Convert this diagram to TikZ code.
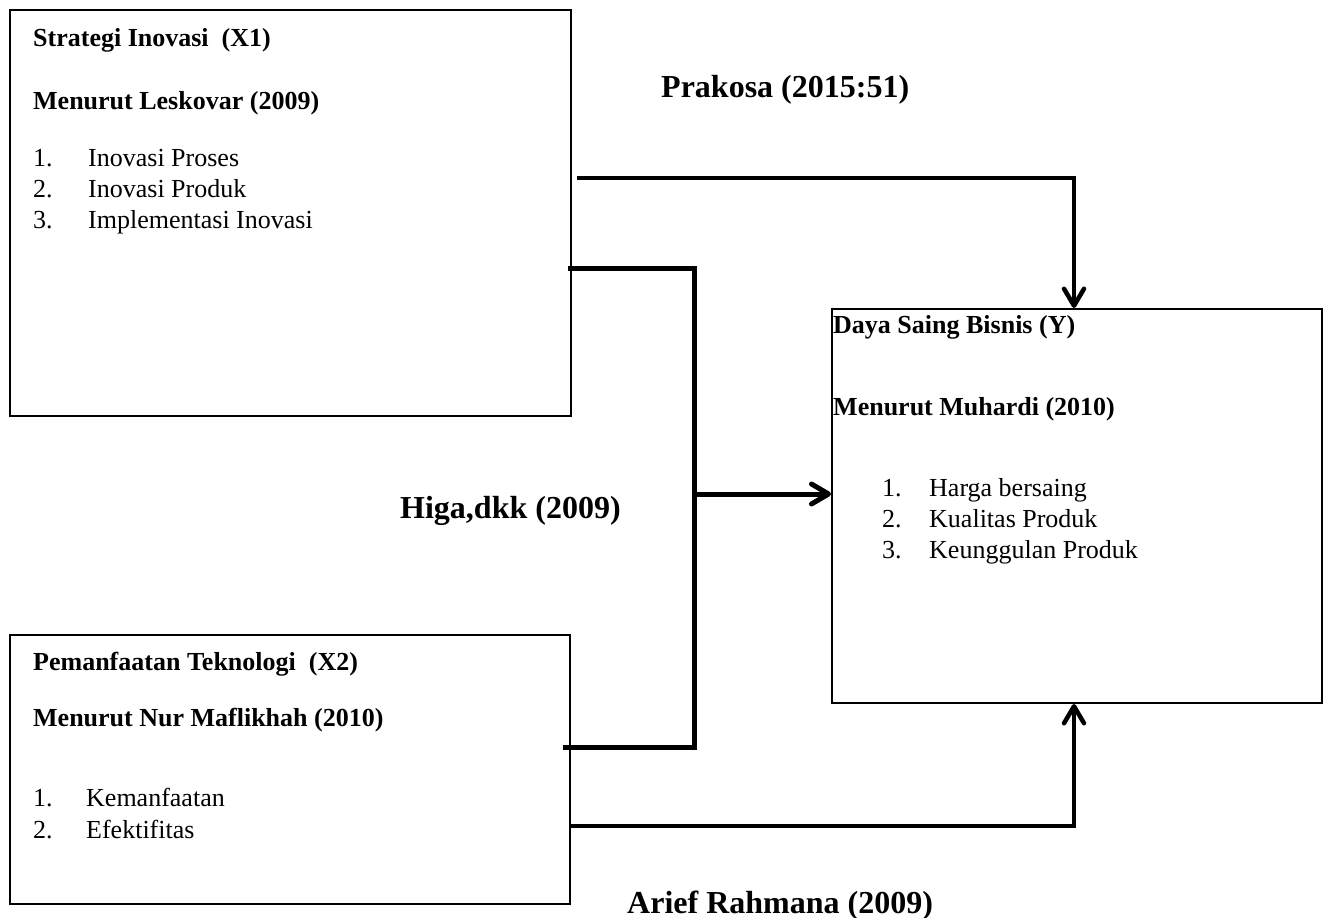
\documentclass[tikz,border=0pt]{standalone}
\usepackage{fontspec}
\setmainfont{Liberation Serif}
\usetikzlibrary{arrows.meta}
\begin{document}
\begin{tikzpicture}[x=1pt,y=-1pt,
  box/.style={draw=black, line width=2pt, anchor=north west, inner sep=0pt},
  txt/.style={anchor=base west, inner sep=0pt, font=\fontsize{26}{31}\selectfont},
  hd/.style={anchor=base west, inner sep=0pt, font=\fontsize{26}{31}\selectfont\bfseries},
  lbl/.style={anchor=base west, inner sep=0pt, font=\fontsize{32}{38}\selectfont\bfseries},
  conn/.style={line width=4.5pt, line join=miter},
  brk/.style={line width=5pt, line join=miter},
  vtip/.tip={Straight Barb[length=17pt,width=20pt,round]}
]
\useasboundingbox (0,0) rectangle (1328,918);

% boxes
\node[box, minimum width=561pt, minimum height=406pt] (x1) at (9,9) {};
\node[box, minimum width=560pt, minimum height=269pt] (x2) at (9,634) {};
\node[box, minimum width=490pt, minimum height=394pt] (y) at (831,308) {};

% X1 text
\node[hd] (x1h) at (33,46) {Strategi Inovasi\ \ (X1)};
\node[hd] (x1m) at (33,109) {Menurut Leskovar (2009)};
\node[txt] (x1n1) at (33,166) {1.};
\node[txt] (x1i1) at (88,166) {Inovasi Proses};
\node[txt] (x1n2) at (33,197) {2.};
\node[txt] (x1i2) at (88,197) {Inovasi Produk};
\node[txt] (x1n3) at (33,228) {3.};
\node[txt] (x1i3) at (88,228) {Implementasi Inovasi};

% X2 text
\node[hd] (x2h) at (33,670) {Pemanfaatan Teknologi\ \ (X2)};
\node[hd] (x2m) at (33,726) {Menurut Nur Maflikhah (2010)};
\node[txt] (x2n1) at (33,806) {1.};
\node[txt] (x2i1) at (86,806) {Kemanfaatan};
\node[txt] (x2n2) at (33,838) {2.};
\node[txt] (x2i2) at (86,838) {Efektifitas};

% Y text
\node[hd] (yh) at (833,333) {Daya Saing Bisnis (Y)};
\node[hd] (ym) at (833,415) {Menurut Muhardi (2010)};
\node[txt] (yn1) at (882,496) {1.};
\node[txt] (yi1) at (929,496) {Harga bersaing};
\node[txt] (yn2) at (882,527) {2.};
\node[txt] (yi2) at (929,527) {Kualitas Produk};
\node[txt] (yn3) at (882,558) {3.};
\node[txt] (yi3) at (929,558) {Keunggulan Produk};

% labels
\node[lbl] (l1) at (661,97) {Prakosa (2015:51)};
\node[lbl] (l2) at (400,518) {Higa,dkk (2009)};
\node[lbl] (l3) at (627,913) {Arief Rahmana (2009)};

% connectors
\coordinate (a1) at (577,178);
\coordinate (b1) at (568,268);
\coordinate (b2) at (694,268);
\coordinate (b3) at (694,747);
\coordinate (b4) at (563,747);
\coordinate (m1) at (694,494);
\coordinate (c1) at (569,826);

\draw[conn, -{vtip}] (a1) -| ([xshift=-3pt]y.north);
\draw[brk] (b1) -- (b2) -- (b3) -- (b4);
\draw[brk, -{vtip}] (m1) -- (y.west |- m1);
\draw[conn, -{vtip}] (c1) -| ([xshift=-3pt]y.south);
\end{tikzpicture}
\end{document}
